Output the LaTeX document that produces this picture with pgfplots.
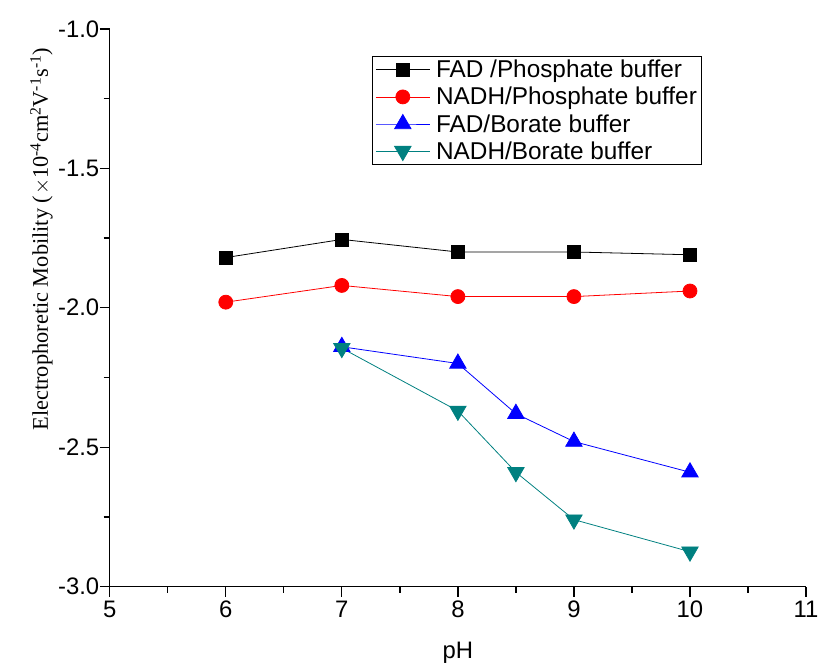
\documentclass[border=0pt]{standalone}
\usepackage{pgfplots}
\pgfplotsset{compat=1.18}
\usepackage{fontspec}
\setmainfont{Liberation Sans}
\newfontfamily\timesfont{Liberation Serif}
\definecolor{teal1}{RGB}{0,128,128}
\begin{document}
\begin{tikzpicture}
\begin{axis}[
  scale only axis,
  width=698bp, height=559bp,
  xmin=5, xmax=11, ymin=-3, ymax=-1,
  axis x line*=bottom, axis y line*=left,
  xtick={5,6,...,11}, ytick={-3,-2.5,...,-1},
  minor xtick={5.5,6.5,...,10.5}, minor ytick={-2.75,-2.25,-1.75,-1.25},
  tick align=outside,
  major tick length=10bp, minor tick length=6bp,
  every tick/.style={black, line width=1.3pt},
  axis line style={line width=1.5pt},
  /pgf/number format/assume math mode=true,
  xticklabel style={/pgf/number format/fixed, yshift=-1bp},
  yticklabel style={/pgf/number format/fixed, /pgf/number format/fixed zerofill, /pgf/number format/precision=1, xshift=3bp},
  tick label style={font=\fontsize{24}{26}\selectfont},
  xlabel={pH}, xlabel style={font=\fontsize{24}{26}\selectfont, at={(axis description cs:0.5,-0.118)}, anchor=center},
  ylabel={\timesfont Electrophoretic Mobility (\kern1pt$\times$10\textsuperscript{-4}cm\textsuperscript{2}V\textsuperscript{-1}s\textsuperscript{-1})},
  ylabel style={font=\fontsize{22.5}{25}\selectfont, at={(axis description cs:-0.098,0.623)}, anchor=center},
  legend style={at={(0.3768,0.9517)}, anchor=north west, draw=black, line width=0.8pt,
    font=\fontsize{24.5}{26}\selectfont, row sep=4bp, column sep=4bp, inner xsep=3bp, inner ysep=2bp},
  legend image code/.code={\draw[mark repeat=2,mark phase=2] plot coordinates {(0bp,0bp) (27bp,0bp) (54bp,0bp)};},
  legend cell align=left,
]
\addplot[black, line width=0.8pt, mark=square*, mark size=6.5bp] coordinates {
 (6,-1.82) (7,-1.755) (8,-1.80) (9,-1.80) (10,-1.81)};
\addlegendentry{FAD /Phosphate buffer}
\addplot[red, line width=0.8pt, mark=*, mark size=7bp] coordinates {
 (6,-1.98) (7,-1.92) (8,-1.96) (9,-1.96) (10,-1.94)};
\addlegendentry{NADH/Phosphate buffer}
\addplot[blue, line width=0.8pt, mark=triangle*, mark size=9.5bp] coordinates {
 (7,-2.14) (8,-2.20) (8.5,-2.38) (9,-2.48) (10,-2.59)};
\addlegendentry{FAD/Borate buffer}
\addplot[teal1, line width=0.8pt, mark=triangle*, mark options={rotate=180}, mark size=9.5bp] coordinates {
 (7,-2.145) (8,-2.37) (8.5,-2.59) (9,-2.76) (10,-2.875)};
\addlegendentry{NADH/Borate buffer}
\end{axis}
\pgfresetboundingbox
\path[use as bounding box] (current axis.south west) ++(-110bp,-82bp) rectangle ++(820bp,670bp);
\end{tikzpicture}
\end{document}
